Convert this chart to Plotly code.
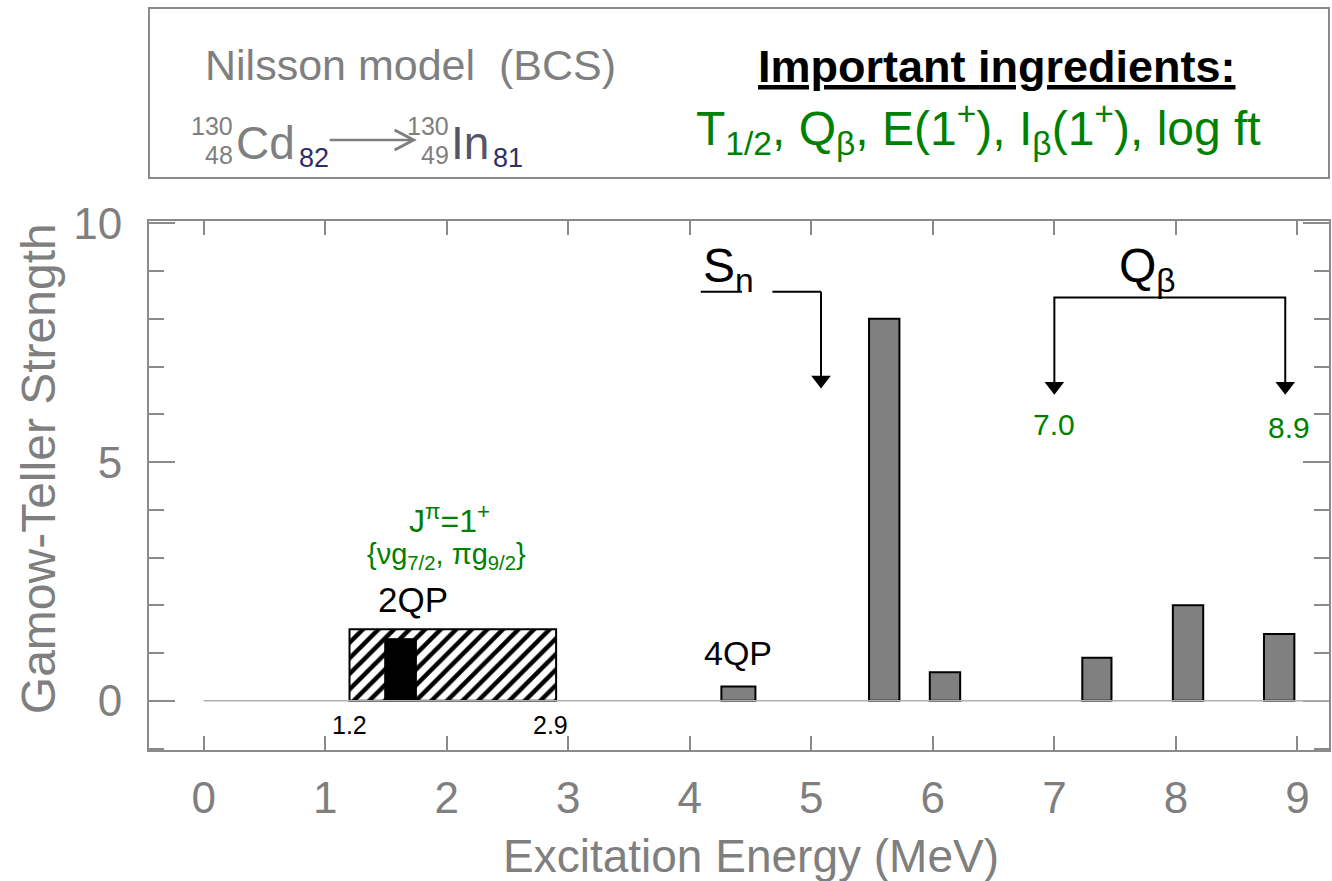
import plotly.graph_objects as go

# Gamow-Teller strength of 130Cd -> 130In (Nilsson model + BCS)
gt_energy = [4.4, 5.6, 6.1, 7.35, 8.1, 8.85]      # MeV
gt_strength = [0.3, 8.0, 0.6, 0.9, 2.0, 1.4]
gt_width = [0.28, 0.25, 0.25, 0.24, 0.25, 0.25]

# 2QP J=1+ band and the state inside it
qp_low, qp_high = 1.2, 2.9
qp_band_height = 1.5
qp_state_energy = 1.62
qp_state_strength = 1.3
qp_state_width = 0.26

# neutron separation energy and Q-beta window
sn_energy = 5.08
qbeta_low, qbeta_high = 7.0, 8.9

x_ticks = list(range(10))
y_ticks = [0, 5, 10]

W, H = 1332, 881
PLOT_L, PLOT_R, PLOT_T, PLOT_B = 149, 1331, 221, 750
FONT = "Liberation Sans, Arial, sans-serif"
GRAY = "#7f7f7f"
FRAME = "#8a8a8a"
GREEN = "#008000"
NAVY = "#2e2e66"


def px_x(px):
    return (px - PLOT_L) / (PLOT_R - PLOT_L)


def px_y(py):
    return (PLOT_B - py) / (PLOT_B - PLOT_T)


fig = go.Figure()

# hatched 2QP band
fig.add_trace(go.Bar(
    x=[(qp_low + qp_high) / 2], y=[qp_band_height], width=[qp_high - qp_low],
    marker=dict(color="white",
                pattern=dict(shape="/", fgcolor="black", bgcolor="white", fgopacity=1,
                             size=11, solidity=0.4),
                line=dict(color="black", width=2)),
    hoverinfo="skip", showlegend=False))

# 2QP state
fig.add_trace(go.Bar(
    x=[qp_state_energy], y=[qp_state_strength], width=[qp_state_width],
    marker=dict(color="black", line=dict(color="black", width=1)),
    showlegend=False))

# 4QP strength
fig.add_trace(go.Bar(
    x=gt_energy, y=gt_strength, width=gt_width,
    marker=dict(color="#808080", line=dict(color="black", width=2)),
    showlegend=False))

# arrowheads for Sn and Q-beta
fig.add_trace(go.Scatter(
    x=[sn_energy, qbeta_low, qbeta_high], y=[6.72, 6.59, 6.59],
    mode="markers",
    marker=dict(symbol="triangle-down", size=17, color="black"),
    hoverinfo="skip", showlegend=False))

shapes = []
# baseline
shapes.append(dict(type="line", xref="x", yref="y", x0=0, x1=9.26, y0=0, y1=0,
                   line=dict(color="#b0b0b0", width=1.5)))
# Sn bracket
for xa, xb in [(4.09, 4.43), (4.68, sn_energy)]:
    shapes.append(dict(type="line", xref="x", yref="y", x0=xa, x1=xb, y0=8.57, y1=8.57,
                       line=dict(color="black", width=2)))
shapes.append(dict(type="line", xref="x", yref="y", x0=sn_energy, x1=sn_energy, y0=8.57, y1=6.8,
                   line=dict(color="black", width=2)))
# Q-beta bracket
shapes.append(dict(type="path", xref="x", yref="y",
                   path=f"M {qbeta_low},6.68 L {qbeta_low},8.45 L {qbeta_high},8.45 L {qbeta_high},6.68",
                   line=dict(color="black", width=2)))
# header box
shapes.append(dict(type="rect", xref="paper", yref="paper",
                   x0=px_x(149), x1=px_x(1331), y0=px_y(178), y1=px_y(8),
                   line=dict(color="#8a8a8a", width=2)))
# decay arrow in the header
shapes.append(dict(type="line", xref="paper", yref="paper",
                   x0=px_x(330), x1=px_x(412), y0=px_y(140), y1=px_y(140),
                   line=dict(color=GRAY, width=2.5)))
shapes.append(dict(type="path", xref="paper", yref="paper",
                   path=f"M {px_x(395)},{px_y(130)} L {px_x(414)},{px_y(140)} L {px_x(395)},{px_y(150)}",
                   line=dict(color=GRAY, width=3)))

ann = []


def paper_text(text, px, py, size, color, xanchor="center", yanchor="middle", angle=0):
    ann.append(dict(text=text, xref="paper", yref="paper", x=px_x(px), y=px_y(py),
                    xanchor=xanchor, yanchor=yanchor, showarrow=False, textangle=angle,
                    font=dict(family=FONT, size=size, color=color)))


def data_text(text, x, y, size, color, xanchor="center", yanchor="middle"):
    ann.append(dict(text=text, xref="x", yref="y", x=x, y=y,
                    xanchor=xanchor, yanchor=yanchor, showarrow=False,
                    font=dict(family=FONT, size=size, color=color)))


# header text
paper_text("Nilsson model\u00a0\u00a0(BCS)", 203, 65, 43, GRAY, xanchor="left")
paper_text("130", 235, 126, 25, GRAY, xanchor="right")
paper_text("48", 235, 155, 25, GRAY, xanchor="right")
paper_text("Cd", 234, 143, 46, GRAY, xanchor="left")
paper_text("82", 297, 158, 27, NAVY, xanchor="left")
paper_text("130", 452, 126, 25, GRAY, xanchor="right")
paper_text("49", 452, 155, 25, GRAY, xanchor="right")
paper_text("In", 450, 143, 46, "#55556a", xanchor="left")
paper_text("81", 492, 158, 27, NAVY, xanchor="left")
paper_text("<b><u>Important ingredients:</u></b>", 998, 66, 45, "black")
paper_text("T<sub>1/2</sub>, Q<sub>β</sub>, E(1<sup>+</sup>), I<sub>β</sub>(1<sup>+</sup>), log ft",
           980, 128, 48, GREEN)

# axis titles
paper_text("Excitation Energy (MeV)", 752, 856, 46, GRAY)
paper_text("Gamow-Teller Strength", 38, 469, 48, GRAY, angle=-90)

# labels in the plot
data_text("J<sup>π</sup>=1<sup>+</sup>", 2.02, 3.8, 32, GREEN)
data_text("{νg<sub>7/2</sub>, πg<sub>9/2</sub>}", 2.0, 3.03, 29, GREEN)
data_text("2QP", 1.72, 2.12, 35, "black")
data_text("4QP", 4.4, 1.0, 34, "black")
data_text(f"{qp_low}", qp_low, -0.5, 25, "black")
data_text(f"{qp_high}", qp_high - 0.05, -0.5, 25, "black")
data_text("S<sub>n</sub>", 4.09, 9.05, 48, "black", xanchor="left")
data_text("Q<sub>β</sub>", 7.77, 9.05, 48, "black")
data_text(f"{qbeta_low:.1f}", qbeta_low, 5.78, 30, GREEN)
data_text(f"{qbeta_high:.1f}", qbeta_high + 0.03, 5.72, 30, GREEN)

fig.update_layout(
    width=W, height=H,
    margin=dict(l=PLOT_L, r=W - PLOT_R, t=PLOT_T, b=H - PLOT_B, pad=0),
    paper_bgcolor="white", plot_bgcolor="white",
    barmode="overlay",
    showlegend=False,
    shapes=shapes,
    annotations=ann,
    font=dict(family=FONT, color=GRAY),
)

fig.update_xaxes(
    range=[-0.45, 9.26],
    tickmode="array", tickvals=x_ticks, ticktext=[str(v) for v in x_ticks],
    ticks="inside", ticklen=14, tickwidth=1.5, tickcolor=FRAME,
    showline=True, linecolor=FRAME, linewidth=2, mirror="ticks",
    showgrid=False, zeroline=False,
    tickfont=dict(family=FONT, size=44, color=GRAY),
    ticklabelstandoff=8,
)

fig.update_yaxes(
    range=[-1.03, 10.05],
    tickmode="array", tickvals=y_ticks, ticktext=[str(v) for v in y_ticks],
    ticks="inside", ticklen=26, tickwidth=1.5, tickcolor=FRAME,
    minor=dict(dtick=1, tick0=0, ticks="inside", ticklen=15, tickwidth=1.5, tickcolor=FRAME),
    showline=True, linecolor=FRAME, linewidth=2, mirror="ticks",
    showgrid=False, zeroline=False,
    tickfont=dict(family=FONT, size=44, color=GRAY),
    ticklabelstandoff=16,
)

fig.write_html("out.html")
